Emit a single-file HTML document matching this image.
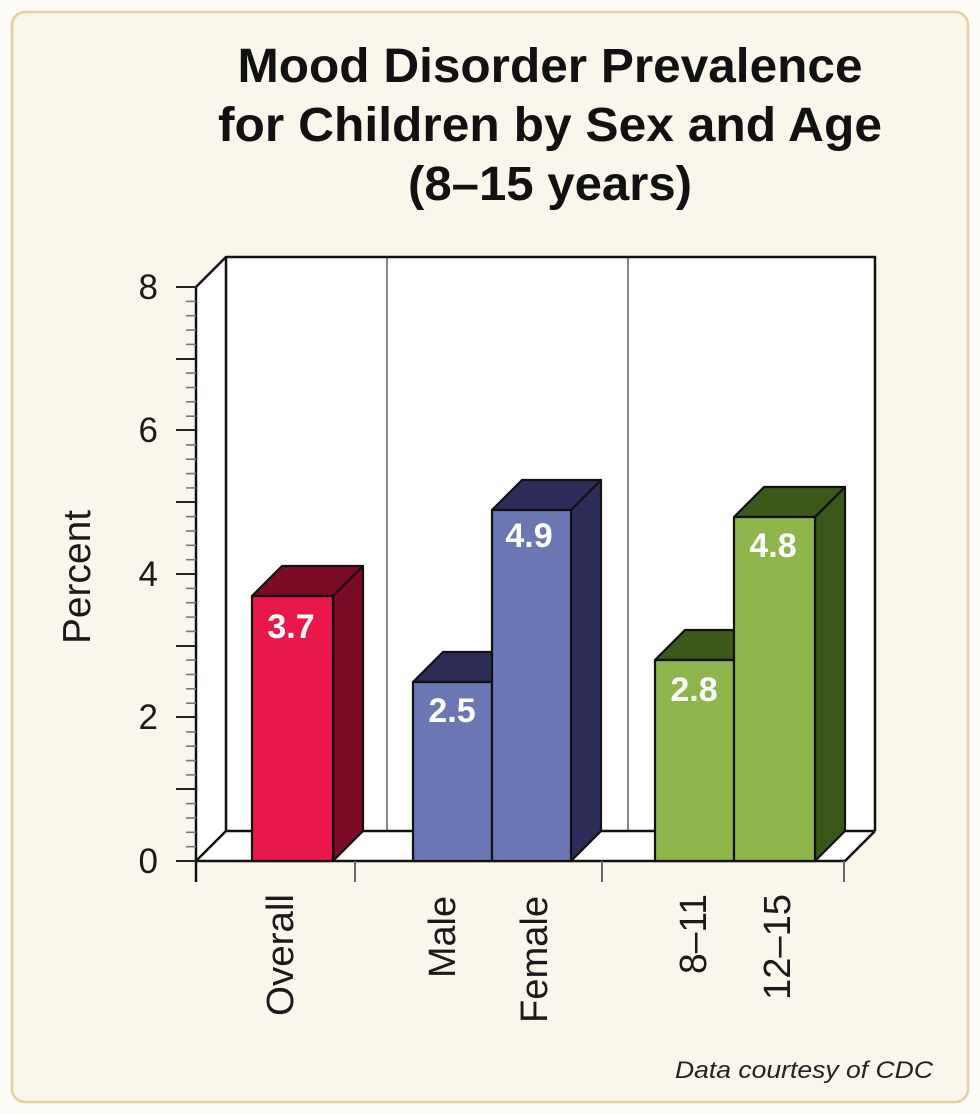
<!DOCTYPE html>
<html>
<head>
<meta charset="utf-8">
<style>
  html,body{margin:0;padding:0;background:#fefcf7;}
  svg{display:block;}
  text{font-family:"Liberation Sans", Arial, sans-serif;}
</style>
</head>
<body>
<svg width="980" height="1114" viewBox="0 0 980 1114" xmlns="http://www.w3.org/2000/svg">
  <rect x="0" y="0" width="980" height="1114" fill="#fefcf7"/>
  <rect x="12" y="12" width="956" height="1090" rx="13" ry="13" fill="#faf6eb" stroke="#e6cf9f" stroke-width="2.5"/>

  <!-- Title -->
  <g font-weight="bold" fill="#111" font-size="48" text-anchor="middle">
    <text x="550" y="82" textLength="625" lengthAdjust="spacingAndGlyphs">Mood Disorder Prevalence</text>
    <text x="550" y="141" textLength="664" lengthAdjust="spacingAndGlyphs">for Children by Sex and Age</text>
    <text x="550" y="200" textLength="284" lengthAdjust="spacingAndGlyphs">(8–15 years)</text>
  </g>

  <!-- Walls -->
  <polygon points="196,287 226,257 226,831 196,861" fill="#ffffff"/>
  <rect x="226" y="257" width="649" height="574" fill="#ffffff"/>
  <polygon points="196,861 226,831 875,831 845,861" fill="#ffffff"/>

  <!-- dividers -->
  <line x1="387" y1="258" x2="387" y2="831" stroke="#8a8a8a" stroke-width="2"/>
  <line x1="628" y1="258" x2="628" y2="831" stroke="#8a8a8a" stroke-width="2"/>

  <!-- wall outlines -->
  <g stroke="#111" stroke-width="2.5" fill="none" stroke-linejoin="round">
    <polyline points="196,287 226,257 875,257 875,831"/>
    <line x1="226" y1="257" x2="226" y2="831"/>
    <line x1="226" y1="831" x2="875" y2="831"/>
    <line x1="196" y1="861" x2="226" y2="831"/>
    <polyline points="196,861 845,861 875,831"/>
    <line x1="196" y1="287" x2="196" y2="882"/>
  </g>

  <!-- y ticks -->
  <g stroke="#222" stroke-width="2">
    <line x1="176" y1="287" x2="196" y2="287"/>
    <line x1="176" y1="359" x2="196" y2="359"/>
    <line x1="176" y1="430" x2="196" y2="430"/>
    <line x1="176" y1="502" x2="196" y2="502"/>
    <line x1="176" y1="574" x2="196" y2="574"/>
    <line x1="176" y1="646" x2="196" y2="646"/>
    <line x1="176" y1="717" x2="196" y2="717"/>
    <line x1="176" y1="789" x2="196" y2="789"/>
    <line x1="176" y1="861" x2="196" y2="861"/>
  </g>
  <g stroke="#777" stroke-width="1.6">
    <line x1="186" y1="301.4" x2="196" y2="301.4"/><line x1="186" y1="315.7" x2="196" y2="315.7"/><line x1="186" y1="330.1" x2="196" y2="330.1"/><line x1="186" y1="344.4" x2="196" y2="344.4"/>
    <line x1="186" y1="373.1" x2="196" y2="373.1"/><line x1="186" y1="387.5" x2="196" y2="387.5"/><line x1="186" y1="401.8" x2="196" y2="401.8"/><line x1="186" y1="416.2" x2="196" y2="416.2"/>
    <line x1="186" y1="444.9" x2="196" y2="444.9"/><line x1="186" y1="459.2" x2="196" y2="459.2"/><line x1="186" y1="473.6" x2="196" y2="473.6"/><line x1="186" y1="487.9" x2="196" y2="487.9"/>
    <line x1="186" y1="516.6" x2="196" y2="516.6"/><line x1="186" y1="531" x2="196" y2="531"/><line x1="186" y1="545.3" x2="196" y2="545.3"/><line x1="186" y1="559.7" x2="196" y2="559.7"/>
    <line x1="186" y1="588.4" x2="196" y2="588.4"/><line x1="186" y1="602.7" x2="196" y2="602.7"/><line x1="186" y1="617.1" x2="196" y2="617.1"/><line x1="186" y1="631.4" x2="196" y2="631.4"/>
    <line x1="186" y1="660.1" x2="196" y2="660.1"/><line x1="186" y1="674.5" x2="196" y2="674.5"/><line x1="186" y1="688.8" x2="196" y2="688.8"/><line x1="186" y1="703.2" x2="196" y2="703.2"/>
    <line x1="186" y1="731.9" x2="196" y2="731.9"/><line x1="186" y1="746.2" x2="196" y2="746.2"/><line x1="186" y1="760.6" x2="196" y2="760.6"/><line x1="186" y1="774.9" x2="196" y2="774.9"/>
    <line x1="186" y1="803.6" x2="196" y2="803.6"/><line x1="186" y1="818" x2="196" y2="818"/><line x1="186" y1="832.3" x2="196" y2="832.3"/><line x1="186" y1="846.7" x2="196" y2="846.7"/>
  </g>

  <!-- x ticks -->
  <g stroke="#666" stroke-width="2">
    <line x1="355" y1="861" x2="355" y2="882"/>
    <line x1="602" y1="861" x2="602" y2="882"/>
    <line x1="844" y1="861" x2="844" y2="882"/>
  </g>

  <!-- y labels -->
  <g font-size="35" fill="#1a1a1a" text-anchor="end">
    <text x="158" y="299">8</text>
    <text x="158" y="442">6</text>
    <text x="158" y="586">4</text>
    <text x="158" y="729">2</text>
    <text x="158" y="873">0</text>
  </g>
  <text transform="translate(90,577) rotate(-90)" font-size="39" fill="#1a1a1a" text-anchor="middle" textLength="134" lengthAdjust="spacingAndGlyphs">Percent</text>

  <!-- Bars -->
  <g stroke="#111" stroke-width="2.2" stroke-linejoin="round">
    <!-- Overall 3.7 -->
    <polygon points="333,596 363,566 363,831 333,861" fill="#7b0a25"/>
    <polygon points="252,596 282,566 363,566 333,596" fill="#7b0a25"/>
    <rect x="252" y="596" width="81" height="265" fill="#e8194a"/>
    <!-- Male 2.5 -->
    <polygon points="492,682 522,652 522,831 492,861" fill="#2e2d5a"/>
    <polygon points="413,682 443,652 522,652 492,682" fill="#2e2d5a"/>
    <rect x="413" y="682" width="79" height="179" fill="#6b77b3"/>
    <!-- Female 4.9 -->
    <polygon points="571,510 601,480 601,831 571,861" fill="#2e2d5a"/>
    <polygon points="492,510 522,480 601,480 571,510" fill="#2e2d5a"/>
    <rect x="492" y="510" width="79" height="351" fill="#6b77b3"/>
    <!-- 8-11 2.8 -->
    <polygon points="734,660 764,630 764,831 734,861" fill="#3b5719"/>
    <polygon points="655,660 685,630 764,630 734,660" fill="#3b5719"/>
    <rect x="655" y="660" width="79" height="201" fill="#8db54b"/>
    <!-- 12-15 4.8 -->
    <polygon points="815,517 845,487 845,831 815,861" fill="#3b5719"/>
    <polygon points="734,517 764,487 845,487 815,517" fill="#3b5719"/>
    <rect x="734" y="517" width="81" height="344" fill="#8db54b"/>
  </g>

  <!-- value labels -->
  <g font-size="34" font-weight="bold" fill="#ffffff" text-anchor="middle">
    <text x="291" y="638">3.7</text>
    <text x="452" y="722">2.5</text>
    <text x="529" y="547">4.9</text>
    <text x="694" y="701">2.8</text>
    <text x="773" y="557">4.8</text>
  </g>

  <!-- x labels -->
  <g font-size="38" fill="#1a1a1a" text-anchor="end">
    <text transform="translate(293,894) rotate(-90)" textLength="122" lengthAdjust="spacingAndGlyphs">Overall</text>
    <text transform="translate(455,896) rotate(-90)" textLength="82" lengthAdjust="spacingAndGlyphs">Male</text>
    <text transform="translate(547,896) rotate(-90)" textLength="127" lengthAdjust="spacingAndGlyphs">Female</text>
    <text transform="translate(706,894) rotate(-90)" textLength="80" lengthAdjust="spacingAndGlyphs">8–11</text>
    <text transform="translate(790,894) rotate(-90)" textLength="106" lengthAdjust="spacingAndGlyphs">12–15</text>
  </g>

  <!-- footer -->
  <text x="675" y="1078" font-size="24" font-style="italic" fill="#222" textLength="258" lengthAdjust="spacingAndGlyphs">Data courtesy of CDC</text>
</svg>
</body>
</html>
